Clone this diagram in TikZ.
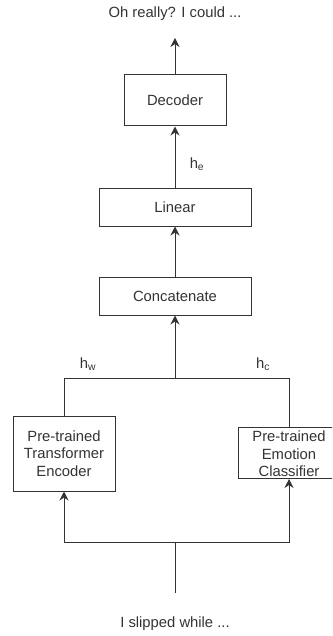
\documentclass[tikz,border=0pt]{standalone}
\usepackage{fontspec}
\setmainfont{Liberation Sans}
\usetikzlibrary{arrows.meta}
\definecolor{ink}{HTML}{333333}

\tikzset{
  block/.style={draw=ink, line width=1pt, text=ink, align=center, inner sep=0pt},
  lbl/.style={text=ink, align=center, inner sep=0pt},
  wire/.style={draw=ink, line width=1pt},
  flow/.style={wire, -{Stealth[length=9pt,width=9pt,inset=3pt]}}
}

\begin{document}
\begin{tikzpicture}[x=1pt, y=-1pt, font=\fontsize{14.8}{17.5}\selectfont]
  \useasboundingbox (0,0) rectangle (332,636);
  \clip (0,0) rectangle (332,636);
  \draw
    (175,14) node[lbl] (out){Oh really? I could ...}
    (175,100.5) node[block, minimum width=102pt, minimum height=51pt] (dec){Decoder}
    (175,207.5) node[block, minimum width=152pt, minimum height=37pt] (lin){Linear}
    (175,296) node[block, minimum width=152pt, minimum height=38pt] (cat){Concatenate}
    (64,453.5) node[block, minimum width=102pt, minimum height=75pt] (enc){Pre-trained\\Transformer\\Encoder}
    (289,453) node[block, minimum width=102pt, minimum height=51pt] (cls){}
    (289,454) node[lbl] (clstext){Pre-trained\\Emotion\\Classifier}
    (175,624) node[lbl] (in){I slipped while ...}
    (197,164) node[lbl] (he){h\textsubscript{e}}
    (88,364) node[lbl] (hw){h\textsubscript{w}}
    (263,364) node[lbl] (hc){h\textsubscript{c}};
  \coordinate (top) at (175,38);
  \coordinate (merge) at (175,378);
  \coordinate (split) at (175,542);
  \coordinate (src) at (175,593);
  \begin{scope}
    \draw[flow] (dec.north) to (top);
    \draw[flow] (lin.north) to (dec.south);
    \draw[flow] (cat.north) to (lin.south);
    \draw[flow] (merge) to (cat.south);
    \draw[wire] (enc.north) -- (enc.north |- merge) -- (cls.north |- merge) -- (cls.north);
    \draw[wire] (src) to (split);
    \draw[flow] (split) -| (enc.south);
    \draw[flow] (split) -| (cls.south);
  \end{scope}
\end{tikzpicture}
\end{document}
